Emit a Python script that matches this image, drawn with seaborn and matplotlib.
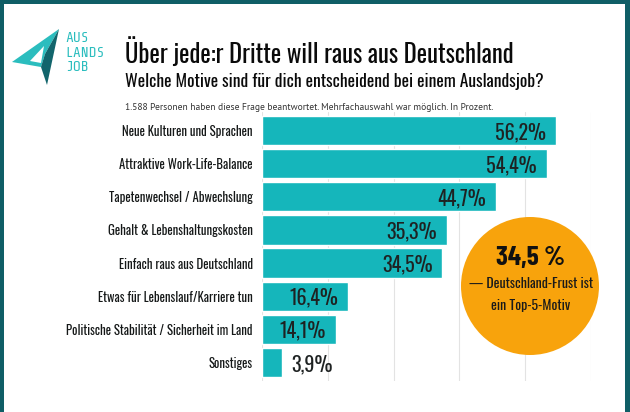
import matplotlib
matplotlib.use("Agg")
import matplotlib.pyplot as plt
from matplotlib import font_manager as fm
from matplotlib.patches import Circle, Polygon, Rectangle
from matplotlib.transforms import Affine2D
import seaborn as sns
import pandas as pd
import numpy as np

# ---------------- data ----------------
categories = [
    "Neue Kulturen und Sprachen",
    "Attraktive Work-Life-Balance",
    "Tapetenwechsel / Abwechslung",
    "Gehalt & Lebenshaltungskosten",
    "Einfach raus aus Deutschland",
    "Etwas für Lebenslauf/Karriere tun",
    "Politische Stabilität / Sicherheit im Land",
    "Sonstiges",
]
values = [56.2, 54.4, 44.7, 35.3, 34.5, 16.4, 14.1, 3.9]
value_labels = ["56,2%", "54,4%", "44,7%", "35,3%", "34,5%", "16,4%", "14,1%", "3,9%"]

title = "Über jede:r Dritte will raus aus Deutschland"
subtitle = "Welche Motive sind für dich entscheidend bei einem Auslandsjob?"
note = "1.588 Personen haben diese Frage beantwortet. Mehrfachauswahl war möglich. In Prozent."
badge_value = "34,5 %"
badge_text = ["— Deutschland-Frust ist", "ein Top-5-Motiv"]
logo_lines = ["AUS", "LANDS", "JOB"]

df = pd.DataFrame({"Motiv": categories, "Prozent": values})

# ---------------- fonts ----------------
available = {f.name for f in fm.fontManager.ttflist}
def pick(*names):
    for n in names:
        if n in available:
            return n
    return "DejaVu Sans"

COND = pick("Oswald", "Pathway Gothic One", "Roboto Condensed", "Barlow Condensed", "Asap Condensed")
BOLDC = pick("Barlow Condensed", "Asap Condensed", "Roboto Condensed", "DejaVu Sans")
SANS = pick("PT Sans", "Noto Sans", "DejaVu Sans")
MONO = pick("Share Tech Mono", "Roboto Mono", "DejaVu Sans Mono")

sns.set_theme(style="white")
plt.rcParams["font.family"] = [COND, "DejaVu Sans"]

BAR = "#15B6BB"
BORDER = "#0F5E66"
ORANGE = "#F8A30C"
DARK = "#1E2222"

W, H, DPI = 630, 412, 100
fig = plt.figure(figsize=(W / DPI, H / DPI), dpi=DPI, facecolor=BORDER)
px = Affine2D().scale(1 / DPI, -1 / DPI).translate(0, H / DPI) + fig.dpi_scale_trans

# white card inside the border (left/top/right border)
fig.add_artist(Rectangle((4, 4), W - 9, H - 4, transform=px, facecolor="white",
                         edgecolor="none", zorder=-10))

# ---------------- bars ----------------
ax = fig.add_axes([262 / W, 1 - 381 / H, (591 - 262) / W, (381 - 112) / H])
ax.set_facecolor("none")
sns.barplot(data=df, x="Prozent", y="Motiv", color=BAR, saturation=1, width=0.88,
            ax=ax, zorder=3)
xmax = 62.9
ax.set_xlim(0, xmax)
ax.set_ylim(len(categories) - 0.5 + 0.06, -0.5 - 0.06)
ax.set_xticks(np.linspace(0, xmax, 6))
ax.xaxis.grid(True, color="#e3e3e3", linewidth=0.8, zorder=0)
ax.yaxis.grid(False)
ax.set_xticklabels([])
ax.tick_params(axis="x", length=0)
ax.tick_params(axis="y", length=0, pad=6.5, labelsize=9.2, labelcolor="#151818")
ax.set_xlabel("")
ax.set_ylabel("")
for s in ax.spines.values():
    s.set_visible(False)

for i, (v, lab) in enumerate(zip(values, value_labels)):
    if v >= 10:
        ax.annotate(lab, (v, i), xytext=(-7, -1), textcoords="offset points",
                    ha="right", va="center", fontsize=14.5, color=DARK,
                    fontweight="light", zorder=5)
    else:
        ax.annotate(lab, (v, i), xytext=(6.5, -1), textcoords="offset points",
                    ha="left", va="center", fontsize=14.5, color=DARK,
                    fontweight="light", zorder=5)

# ---------------- titles ----------------
fig.text(125, 53, title, transform=px, ha="left", va="center", fontsize=17.8,
         color="#0a0a0a")
fig.text(125, 82, subtitle, transform=px, ha="left", va="center", fontsize=12.6,
         color="#0a0a0a")
fig.text(125, 108, note, transform=px, ha="left", va="center", fontsize=6.8,
         color="#333333", family=[SANS, "DejaVu Sans"])

# ---------------- badge ----------------
fig.add_artist(Circle((530, 286), 69, transform=px, facecolor=ORANGE,
                      edgecolor="none", zorder=6))
fig.text(531, 258, badge_value, transform=px, ha="center", va="center",
         fontsize=19.5, fontweight="bold", color="#111111", zorder=7,
         family=[BOLDC, "DejaVu Sans"])
fig.text(531, 284, badge_text[0], transform=px, ha="center", va="center",
         fontsize=10, color="#1a1a1a", zorder=7)
fig.text(531, 305, badge_text[1], transform=px, ha="center", va="center",
         fontsize=10, color="#1a1a1a", zorder=7)

# ---------------- logo ----------------
LIGHT = "#2BBDBE"
fig.add_artist(Polygon([(12, 62), (59, 29), (45, 54), (41, 67)], closed=True,
                       transform=px, facecolor=LIGHT, edgecolor="none", zorder=2))
fig.add_artist(Polygon([(59, 29), (47, 85), (41, 67), (45, 54)], closed=True,
                       transform=px, facecolor="#12656C", edgecolor="none", zorder=2))
fig.add_artist(Polygon([(30, 61), (44, 46), (41, 63)], closed=True,
                       transform=px, facecolor="white", edgecolor="none", zorder=3))
for k, t in enumerate(logo_lines):
    fig.text(65, 38 + k * 14.7, t, transform=px, ha="left", va="center",
             fontsize=10.5, color=LIGHT, family=[MONO, "DejaVu Sans Mono"])

fig.savefig("out.png", dpi=DPI, facecolor=fig.get_facecolor())
